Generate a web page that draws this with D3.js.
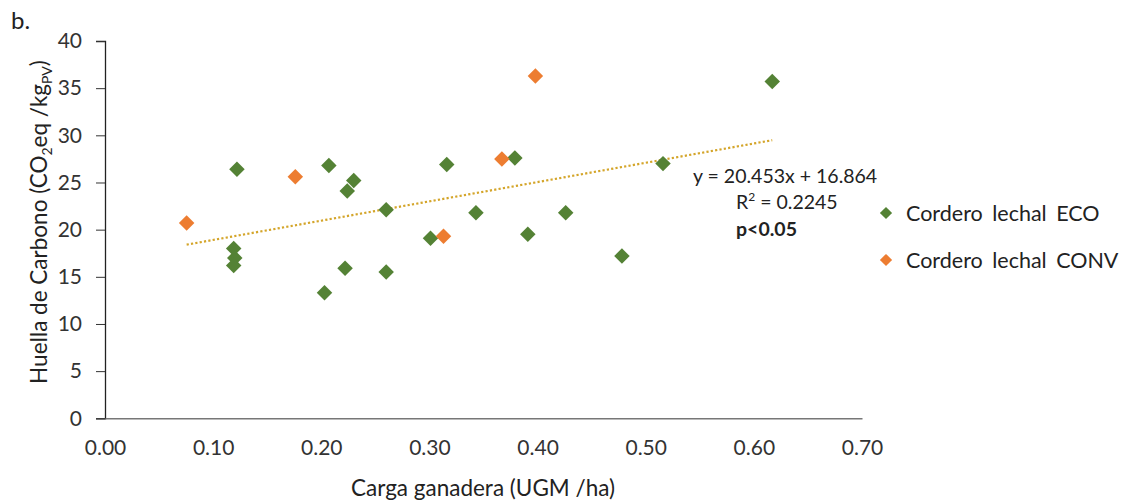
<!DOCTYPE html>
<html><head><meta charset="utf-8">
<script src="https://cdn.jsdelivr.net/npm/d3@7"></script>
<style>body{margin:0;background:#fff}svg{display:block}</style>
</head><body>
<svg id="c" width="1128" height="502"></svg>
<script>
const ecoX = [0.122,0.119,0.120,0.119,0.207,0.230,0.224,0.260,0.222,0.203,0.260,0.301,0.316,0.343,0.379,0.391,0.426,0.478,0.516,0.617];
const ecoY = [26.4,18.0,17.0,16.2,26.8,25.2,24.1,22.1,15.9,13.3,15.5,19.1,26.9,21.8,27.6,19.5,21.8,17.2,27.0,35.7];
const convX = [0.0755,0.176,0.313,0.367,0.398];
const convY = [20.7,25.6,19.3,27.5,36.3];
const xTicks = [0,0.1,0.2,0.3,0.4,0.5,0.6,0.7];
const yTicks = [0,5,10,15,20,25,30,35,40];
const slope = 20.453, intercept = 16.864;
const seriesNames = ["Cordero lechal ECO","Cordero lechal CONV"];
const colors = ["#548235","#ED7D31"];

const svg = d3.select("#c");
const font = "Lato, 'Liberation Sans', sans-serif";
const x = d3.scaleLinear().domain([0,0.7]).range([105,862]);
const y = d3.scaleLinear().domain([0,40]).range([418.3,41]);

svg.append("text").attr("x",11).attr("y",29).attr("font-family",font).attr("font-size",24).attr("fill","#222").text("b.");

// y axis
const ya = svg.append("g").attr("transform","translate(105,0)").call(d3.axisLeft(y).tickValues(yTicks).tickSize(9).tickPadding(14));
ya.select(".domain").attr("stroke","#222").attr("stroke-width",1.3);
ya.selectAll(".tick line").attr("stroke","#333");
ya.selectAll("text").attr("font-family",font).attr("font-size",21).attr("fill","#333");

// x axis
const xa = svg.append("g").attr("transform","translate(0,418.3)").call(d3.axisBottom(x).tickValues(xTicks).tickSize(0).tickPadding(22).tickFormat(d3.format(".2f")));
xa.select(".domain").attr("stroke","#777").attr("stroke-width",1.6);
xa.selectAll("text").attr("font-family",font).attr("font-size",21).attr("fill","#333");

// axis titles
svg.append("text").attr("transform","translate(47,222) rotate(-90)").attr("text-anchor","middle")
  .attr("font-family",font).attr("font-size",22.5).attr("fill","#222")
  .call(t=>{t.append("tspan").text("Huella de Carbono (CO");
    t.append("tspan").attr("font-size",14).attr("dy",5).text("2");
    t.append("tspan").attr("dy",-5).text("eq /kg");
    t.append("tspan").attr("font-size",14).attr("dy",5).text("PV");
    t.append("tspan").attr("dy",-5).text(")");});
svg.append("text").attr("x",483).attr("y",496).attr("text-anchor","middle")
  .attr("font-family",font).attr("font-size",22.5).attr("fill","#222").text("Carga ganadera (UGM /ha)");

// trendline
const allX = ecoX.concat(convX);
const x0 = d3.min(allX), x1 = d3.max(allX);
svg.append("line").attr("x1",x(x0)).attr("y1",y(slope*x0+intercept)).attr("x2",x(x1)).attr("y2",y(slope*x1+intercept))
  .attr("stroke","#D4A52A").attr("stroke-width",2.2).attr("stroke-dasharray","2.2,2.2");

const diamond = d3.symbol().type(d3.symbolSquare).size(120);
function pts(xs,ys,col){
  svg.append("g").selectAll("path").data(xs.map((v,i)=>[v,ys[i]])).join("path")
    .attr("d",diamond).attr("fill",col)
    .attr("transform",d=>`translate(${x(d[0])},${y(d[1])}) rotate(45)`);
}
pts(ecoX,ecoY,colors[0]);
pts(convX,convY,colors[1]);

// equation
const eq = svg.append("g").attr("font-family",font).attr("font-size",19.5).attr("fill","#222");
eq.append("text").attr("x",693).attr("y",183).text("y = 20.453x + 16.864");
eq.append("text").attr("x",736).attr("y",209).call(t=>{t.append("tspan").text("R");t.append("tspan").attr("font-size",12).attr("dy",-8).text("2");t.append("tspan").attr("dy",8).text(" = 0.2245");});
eq.append("text").attr("x",736).attr("y",236).attr("font-weight","bold").text("p<0.05");

// legend
const lg = svg.append("g");
seriesNames.forEach((n,i)=>{
  const yy = 213 + i*47;
  lg.append("path").attr("d",d3.symbol().type(d3.symbolSquare).size(75)).attr("fill",colors[i])
    .attr("transform",`translate(886,${yy}) rotate(45)`);
  lg.append("text").attr("x",906).attr("y",yy+8).attr("font-family",font).attr("font-size",21.5).attr("fill","#222").attr("word-spacing",4).text(n);
});
</script>
</body></html>
